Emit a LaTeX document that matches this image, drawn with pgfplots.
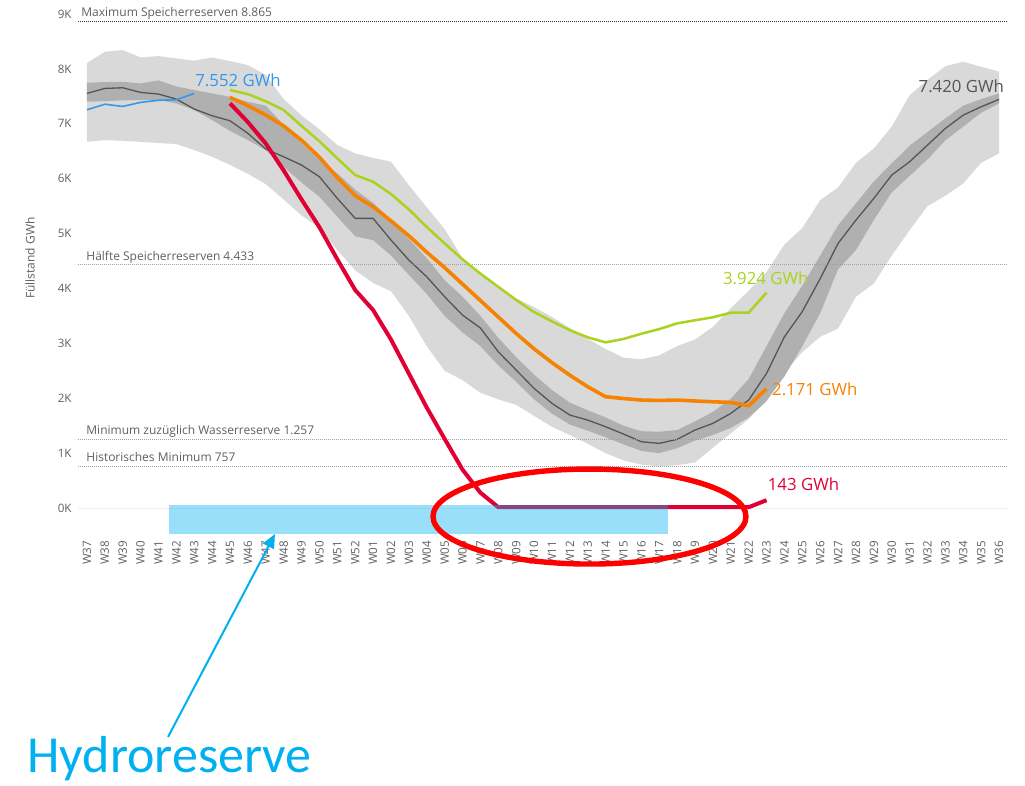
\documentclass[border=0pt]{standalone}
\usepackage{fontspec}
\setmainfont{Open Sans}
\newfontfamily\calibri{Carlito}
\usepackage{pgfplots}
\pgfplotsset{compat=1.18}
\usepackage{pgfplotstable}
\usepgfplotslibrary{fillbetween}
\usetikzlibrary{arrows.meta}

\definecolor{lband}{RGB}{217,217,217}
\definecolor{dband}{RGB}{176,176,176}
\definecolor{medc}{RGB}{85,85,85}
\definecolor{bluec}{RGB}{52,152,235}
\definecolor{greenc}{RGB}{170,210,30}
\definecolor{orangec}{RGB}{245,130,0}
\definecolor{redc}{RGB}{224,0,52}
\definecolor{cyanc}{RGB}{0,176,240}
\definecolor{tickc}{RGB}{95,95,95}
\definecolor{refdark}{RGB}{60,60,60}
\definecolor{reflight}{RGB}{160,160,160}

\pgfplotstableread{
i u1 l1 u2 l2 m
0 8106 6672 7747 7401 7553
1 8311 6703 7760 7413 7644
2 8342 6690 7765 7425 7656
3 8209 6672 7735 7432 7571
4 8233 6650 7790 7432 7541
5 8191 6630 7680 7371 7450
6 8148 6521 7614 7250 7268
7 8209 6400 7553 7067 7146
8 8142 6250 7492 6870 7055
9 8069 6090 7400 6703 6825
10 7887 5900 7330 6521 6539
11 7450 5620 6980 6217 6399
12 7150 5330 6650 5930 6248
13 6900 5100 6339 5671 6035
14 6612 4700 6096 5306 5640
15 6460 4330 5800 4950 5277
16 6380 4100 5560 4880 5277
17 6308 3950 5250 4600 4882
18 5882 3500 4900 4250 4517
19 5478 2950 4550 3900 4213
20 5080 2500 4150 3500 3849
21 4552 2330 3850 3200 3515
22 4275 2100 3500 2950 3280
23 4030 1980 3100 2600 2847
24 3820 1880 2750 2300 2514
25 3660 1680 2430 1980 2180
26 3480 1480 2150 1720 1907
27 3280 1330 1920 1520 1694
28 3080 1170 1780 1410 1603
29 2900 1000 1650 1290 1481
30 2740 870 1500 1160 1348
31 2710 790 1400 1040 1208
32 2780 760 1390 1000 1178
33 2950 780 1420 1090 1251
34 3070 830 1580 1230 1421
35 3300 1100 1750 1330 1542
36 3640 1360 1990 1460 1724
37 3960 1620 2350 1650 1967
38 4300 1950 2950 1950 2453
39 4800 2470 3550 2400 3120
40 5100 2840 4050 2950 3580
41 5610 3120 4600 3550 4180
42 5840 3270 5150 4350 4821
43 6290 3850 5550 4700 5246
44 6550 4092 5950 5250 5641
45 6950 4600 6278 5750 6066
46 7520 5060 6600 6050 6308
47 7800 5500 6850 6350 6612
48 8050 5690 7098 6700 6916
49 8130 5914 7330 6950 7158
50 8040 6290 7450 7200 7310
51 7950 6460 7553 7371 7444
}\hist

\pgfplotstableread{
i v
0 7255
1 7356
2 7316
3 7390
4 7428
5 7438
6 7552
}\prev

\pgfplotstableread{
i g o r
8 7614 7480 7371
9 7540 7330 7030
10 7410 7160 6640
11 7250 6960 6150
12 6960 6700 5620
13 6680 6390 5115
14 6370 6020 4530
15 6066 5690 3971
16 5944 5489 3607
17 5720 5230 3070
18 5440 4960 2450
19 5120 4660 1830
20 4820 4380 1260
21 4530 4080 700
22 4270 3780 280
23 4030 3480 15
24 3790 3180 15
25 3570 2900 15
26 3400 2650 15
27 3240 2420 15
28 3110 2210 15
29 3018 2028 15
30 3080 1995 15
31 3175 1967 15
32 3260 1960 15
33 3364 1967 15
34 3420 1950 15
35 3475 1936 15
36 3558 1924 15
37 3558 1864 15
38 3924 2171 143
}\cur

\begin{document}
\begin{tikzpicture}
\begin{axis}[
  at={(39pt,125.25pt)}, anchor=south west,
  width=465pt, height=263.5pt, scale only axis,
  xmin=-0.5, xmax=51.5, ymin=-500, ymax=9100,
  axis line style={draw=none},
  major tick length=0pt,
  xtick={0,...,51},
  xticklabels={W37,W38,W39,W40,W41,W42,W43,W44,W45,W46,W47,W48,W49,W50,W51,W52,W01,W02,W03,W04,W05,W06,W07,W08,W09,W10,W11,W12,W13,W14,W15,W16,W17,W18,W19,W20,W21,W22,W23,W24,W25,W26,W27,W28,W29,W30,W31,W32,W33,W34,W35,W36},
  ytick={0,1000,...,9000},
  yticklabels={0K,1K,2K,3K,4K,5K,6K,7K,8K,9K},
  tick label style={font=\fontsize{5.8}{6}\selectfont, text=tickc},
  xticklabel style={rotate=90, anchor=east, inner sep=0pt},
  yticklabel style={anchor=east, inner sep=0pt},
  xticklabel shift=2.5pt, yticklabel shift=3pt,
  clip=false,
]
\addplot[draw=none, name path=u1, forget plot] table[x=i,y=u1]{\hist};
\addplot[draw=none, name path=l1, forget plot] table[x=i,y=l1]{\hist};
\addplot[draw=none, name path=u2, forget plot] table[x=i,y=u2]{\hist};
\addplot[draw=none, name path=l2, forget plot] table[x=i,y=l2]{\hist};
\addplot[lband, draw=none] fill between[of=u1 and l1];
\addplot[dband, draw=none] fill between[of=u2 and l2];
\addplot[medc, line width=0.65pt, line join=round] table[x=i,y=m]{\hist};

% reference lines
\addplot[refdark, line width=0.5pt, dash pattern=on 0.5pt off 0.5pt] coordinates {(-0.5,8865) (51.5,8865)};
\addplot[reflight, line width=0.5pt, dash pattern=on 0.5pt off 0.5pt] coordinates {(-0.5,4433) (51.5,4433)};
\addplot[reflight, line width=0.5pt, dash pattern=on 0.5pt off 0.5pt] coordinates {(-0.5,1257) (51.5,1257)};
\addplot[reflight, line width=0.5pt, dash pattern=on 0.5pt off 0.5pt] coordinates {(-0.5,757) (51.5,757)};
\addplot[black!6, line width=0.5pt] coordinates {(-0.5,0) (51.5,0)};

\node[anchor=base west, inner sep=0pt, font=\fontsize{6}{7}\selectfont, text=tickc, xshift=1.5pt, yshift=2.3pt] at (axis cs:-0.5,8865) {Maximum Speicherreserven 8.865};
\node[anchor=base west, inner sep=0pt, font=\fontsize{6}{7}\selectfont, text=tickc, xshift=4pt, yshift=2.1pt] at (axis cs:-0.5,4433) {Hälfte Speicherreserven 4.433};
\node[anchor=base west, inner sep=0pt, font=\fontsize{6}{7}\selectfont, text=tickc, xshift=4pt, yshift=2.5pt] at (axis cs:-0.5,1257) {Minimum zuzüglich Wasserreserve 1.257};
\node[anchor=base west, inner sep=0pt, font=\fontsize{6}{7}\selectfont, text=tickc, xshift=4pt, yshift=2.6pt] at (axis cs:-0.5,757) {Historisches Minimum 757};

% series
\addplot[bluec, line width=0.8pt, line join=round] table[x=i,y=v]{\prev};
\addplot[greenc, line width=1.25pt, line join=round] table[x=i,y=g]{\cur};
\addplot[orangec, line width=1.8pt, line join=round] table[x=i,y=o]{\cur};
\addplot[redc, line width=2pt, line join=round] table[x=i,y=r]{\cur};

% hydro reserve block
\fill[cyanc, opacity=0.4] (axis cs:4.6,-475) rectangle (axis cs:32.5,55);

% value labels
\node[anchor=west, inner sep=0pt, font=\fontsize{8.4}{9}\selectfont, text=bluec] at (axis cs:6.04,7790) {7.552 GWh};
\node[anchor=east, inner sep=0pt, font=\fontsize{8.4}{9}\selectfont, text=medc] at (axis cs:51.3,7687) {7.420 GWh};
\node[anchor=west, inner sep=0pt, font=\fontsize{8.4}{9}\selectfont, text=greenc] at (axis cs:35.55,4189) {3.924 GWh};
\node[anchor=west, inner sep=0pt, font=\fontsize{8.4}{9}\selectfont, text=orangec] at (axis cs:38.29,2158) {2.171 GWh};
\node[anchor=west, inner sep=0pt, font=\fontsize{8.4}{9}\selectfont, text=redc] at (axis cs:38.05,437) {143 GWh};

\coordinate (ec) at (axis cs:28.1,-155);
\end{axis}
\node[rotate=90, inner sep=0pt, font=\fontsize{6}{7}\selectfont, text=tickc] at (15pt,264pt) {Füllstand GWh};
\draw[red, line width=2.7pt] (ec) ellipse [x radius=78.25pt, y radius=23.75pt];
\draw[cyanc, line width=1pt, -{Triangle[length=7pt,width=6pt]}] (84pt,24.5pt) -- (137.5pt,126pt);
\node[anchor=base west, inner sep=0pt, text=cyanc, font=\calibri\fontsize{26}{30}\selectfont] at (13.5pt,6.8pt) {Hydroreserve};
\pgfresetboundingbox
\useasboundingbox (0,0) rectangle (512.5pt,393pt);
\end{tikzpicture}
\end{document}
